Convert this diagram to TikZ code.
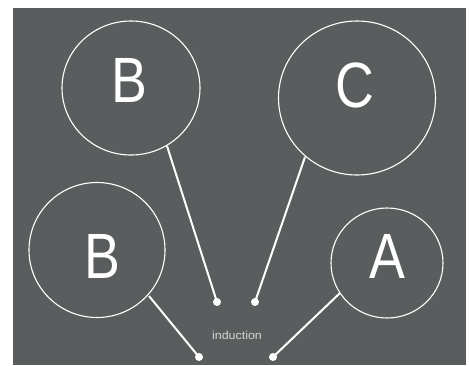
\documentclass[tikz,border=0pt]{standalone}
\usepackage{fontspec}
\setmainfont{Liberation Sans}
\definecolor{bg}{RGB}{90,93,94}
\definecolor{lbl}{RGB}{215,215,215}
\begin{document}
\begin{tikzpicture}[x=1pt,y=-1pt,
  letter/.style={text=white,font=\fontsize{64}{64}\selectfont,xscale=0.84,inner sep=0pt},
  conn/.style={draw=white,line width=2pt},
  ring/.style={draw=white,line width=1.1pt},
  dot/.style={circle,fill=white,inner sep=0pt,minimum size=8pt}]
\useasboundingbox (0,0) rectangle (469,365);
\fill[bg] (13,8) rectangle (466,365);
% circles
\draw[ring] (131,88) ellipse [x radius=69,y radius=67];
\draw[ring] (357,98) ellipse [x radius=78.5,y radius=77];
\draw[ring] (97,250) ellipse [x radius=68,y radius=67.5];
\draw[ring] (387,263) ellipse [x radius=56,y radius=55];
% letters
\node[letter] (b1) at (129,80) {B};
\node[letter] (c1) at (355,85.5) {C};
\node[letter] (b2) at (102,256) {B};
\node[letter] (a1) at (387,256) {A};
% endpoints
\coordinate (e1) at (167,146);
\coordinate (e2) at (305,157);
\coordinate (e3) at (149,296);
\coordinate (e4) at (340,293);
\node[dot] (d1) at (217,302) {};
\node[dot] (d2) at (255,302) {};
\node[dot] (d3) at (199,357) {};
\node[dot] (d4) at (273,357) {};
\draw[conn] (e1) -- (d1.center);
\draw[conn] (e2) -- (d2.center);
\draw[conn] (e3) -- (d3.center);
\draw[conn] (e4) -- (d4.center);
\node[text=lbl,font=\fontsize{11.5}{11.5}\selectfont,inner sep=0pt,xscale=1.08] (ind) at (237,335) {induction};
\end{tikzpicture}
\end{document}
